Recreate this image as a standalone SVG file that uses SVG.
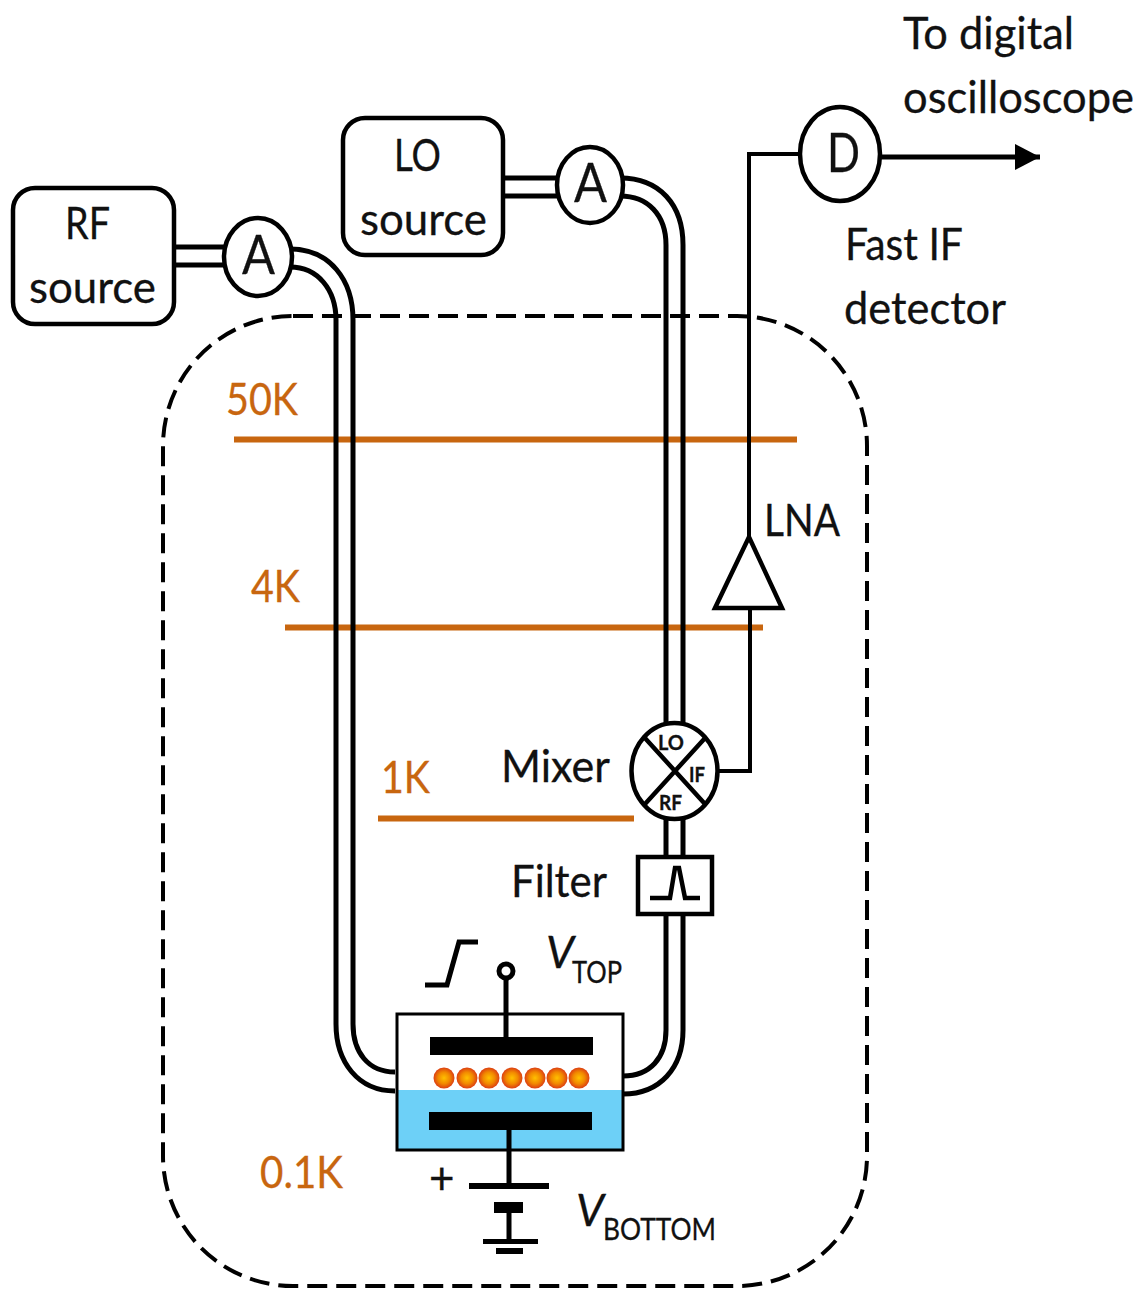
<svg xmlns="http://www.w3.org/2000/svg" width="1143" height="1289" viewBox="0 0 1143 1289">
<style>
text{font-family:"Lato","Open Sans","Liberation Sans",sans-serif;fill:#111;stroke:#111;stroke-width:0.3}
.t{font-size:44px}
.b{font-size:54px}
.o{font-size:44px;fill:#C8660F;stroke:#C8660F}
.s{font-size:30px}
.m{font-size:20px;font-weight:700}
.i{font-size:44px;font-style:italic}
.box{fill:#fff;stroke:#000;stroke-width:4.500}
.c{fill:none;stroke:#000;stroke-width:5}
.th{fill:none;stroke:#000;stroke-width:4}
.shelf{fill:#C8660F}
</style>
<defs>
<radialGradient id="dot"><stop offset="0" stop-color="#FFC000"/><stop offset="0.55" stop-color="#F28A00"/><stop offset="1" stop-color="#DC3F12"/></radialGradient>
<marker id="arrow" markerUnits="userSpaceOnUse" markerWidth="26" markerHeight="28" refX="25" refY="13" orient="auto"><path d="M0 0L25 13L0 26Z" fill="#000"/></marker>
</defs>
<rect width="1143" height="1289" fill="#fff"/>

<g id="enclosure">
<rect x="163" y="316" width="704" height="970" rx="130" ry="130" fill="none" stroke="#000" stroke-width="4" stroke-dasharray="20 9"/>
</g>

<g id="temperature-stages">
<rect class="shelf" x="234" y="436.500" width="563" height="6"/>
<rect class="shelf" x="285" y="624.500" width="478" height="6"/>
<rect class="shelf" x="378" y="815.500" width="256" height="6"/>
<text class="o" x="226" y="415" textLength="72" lengthAdjust="spacingAndGlyphs">50K</text>
<text class="o" x="251" y="602" textLength="49" lengthAdjust="spacingAndGlyphs">4K</text>
<text class="o" x="381" y="793" textLength="49" lengthAdjust="spacingAndGlyphs">1K</text>
<text class="o" x="260" y="1188" textLength="83" lengthAdjust="spacingAndGlyphs">0.1K</text>
</g>

<g id="connectors">
<path class="c" d="M174 247H226M174 265H226"/>
<path class="c" d="M290 249C330 249 353 280 353 320V1024M290 267C318 267 336 290 336 320V1024C336 1062 358 1091 395 1091M353 1024C353 1052 368 1072 395 1072"/>
<path class="c" d="M503 178H558M503 196H558"/>
<path class="c" d="M620 178C660 178 683 205 683 245V725M620 196C648 196 666 215 666 245V725"/>
<path class="c" d="M666 819V857M683 819V857"/>
<path class="c" d="M666 914V1030C666 1058 650 1076 623 1076M683 914V1030C683 1068 660 1094 623 1094"/>
<path class="th" d="M718 771H750V608M749 537V154H800"/>
<path class="c" d="M880 157H1040" marker-end="url(#arrow)"/>
</g>

<g id="rf-source">
<rect class="box" x="13" y="188" width="161" height="136" rx="22"/>
<text class="t" x="65" y="239" textLength="45" lengthAdjust="spacingAndGlyphs">RF</text>
<text class="t" x="29" y="303" textLength="127" lengthAdjust="spacingAndGlyphs">source</text>
</g>
<g id="lo-source">
<rect class="box" x="343" y="118" width="160" height="137" rx="22"/>
<text class="t" x="394" y="171" textLength="47" lengthAdjust="spacingAndGlyphs">LO</text>
<text class="t" x="360" y="235" textLength="127" lengthAdjust="spacingAndGlyphs">source</text>
</g>
<g id="amp-rf">
<ellipse class="box" cx="258" cy="257" rx="34" ry="39"/>
<text class="b" x="242" y="274" textLength="33" lengthAdjust="spacingAndGlyphs">A</text>
</g>
<g id="amp-lo">
<ellipse class="box" cx="590" cy="185" rx="33" ry="38"/>
<text class="b" x="574" y="202" textLength="33" lengthAdjust="spacingAndGlyphs">A</text>
</g>
<g id="detector">
<ellipse class="box" cx="840" cy="154" rx="40" ry="47"/>
<text class="b" x="827" y="172" textLength="33" lengthAdjust="spacingAndGlyphs">D</text>
<text class="t" x="845" y="260" textLength="118" lengthAdjust="spacingAndGlyphs">Fast IF</text>
<text class="t" x="844" y="324" textLength="162" lengthAdjust="spacingAndGlyphs">detector</text>
</g>
<g id="output-label">
<text class="t" x="903" y="49" textLength="171" lengthAdjust="spacingAndGlyphs">To digital</text>
<text class="t" x="903" y="113" textLength="231" lengthAdjust="spacingAndGlyphs">oscilloscope</text>
</g>
<g id="lna">
<path class="th" d="M715 608H782L749 537Z" style="fill:#fff;stroke-width:4.500"/>
<text class="t" x="764" y="536" textLength="76" lengthAdjust="spacingAndGlyphs">LNA</text>
</g>
<g id="mixer">
<ellipse class="box" cx="674.500" cy="771" rx="43" ry="48"/>
<path class="th" style="stroke-width:4.500" d="M644 737L705 804M706 737L645 804"/>
<text class="m" x="658" y="750" textLength="26" lengthAdjust="spacingAndGlyphs">LO</text>
<text class="m" x="689" y="782" textLength="16" lengthAdjust="spacingAndGlyphs">IF</text>
<text class="m" x="659" y="810" textLength="23" lengthAdjust="spacingAndGlyphs">RF</text>
<text class="t" x="501" y="782" textLength="109" lengthAdjust="spacingAndGlyphs">Mixer</text>
</g>
<g id="filter">
<rect class="box" x="638" y="857" width="74" height="57"/>
<path class="th" style="stroke-width:4.500" d="M650 898H670L675 868H679L685 898H700"/>
<text class="t" x="511" y="897" textLength="96" lengthAdjust="spacingAndGlyphs">Filter</text>
</g>
<g id="device">
<rect x="397" y="1090" width="226" height="60" fill="#6DD0F7"/>
<rect x="397" y="1014" width="226" height="136" fill="none" stroke="#000" stroke-width="3"/>
<rect x="430" y="1037" width="163" height="18"/>
<rect x="429" y="1112" width="163" height="18"/>
<g fill="url(#dot)">
<circle cx="444" cy="1078" r="10.500"/><circle cx="467" cy="1078" r="10.500"/><circle cx="489" cy="1078" r="10.500"/><circle cx="512" cy="1078" r="10.500"/><circle cx="535" cy="1078" r="10.500"/><circle cx="557" cy="1078" r="10.500"/><circle cx="579" cy="1078" r="10.500"/>
</g>
</g>
<g id="v-top">
<path class="c" d="M506 978V1037"/>
<circle cx="506" cy="971" r="7" fill="#fff" stroke="#000" stroke-width="5"/>
<path class="c" d="M425 985H447L459 942H478"/>
<text class="i" x="546" y="968" textLength="28" lengthAdjust="spacingAndGlyphs">V</text>
<text class="s" x="572" y="983" textLength="50" lengthAdjust="spacingAndGlyphs">TOP</text>
</g>
<g id="v-bottom">
<path class="c" d="M509 1130V1186M509 1213V1242"/>
<rect x="469" y="1183" width="80" height="6"/>
<rect x="494" y="1202" width="29" height="11"/>
<rect x="483" y="1239" width="55" height="5"/>
<rect x="496" y="1248" width="27" height="6"/>
<text x="429" y="1194" style="font-size:44px">+</text>
<text class="i" x="576" y="1226" textLength="28" lengthAdjust="spacingAndGlyphs">V</text>
<text class="s" x="603" y="1240" textLength="113" lengthAdjust="spacingAndGlyphs">BOTTOM</text>
</g>
</svg>
